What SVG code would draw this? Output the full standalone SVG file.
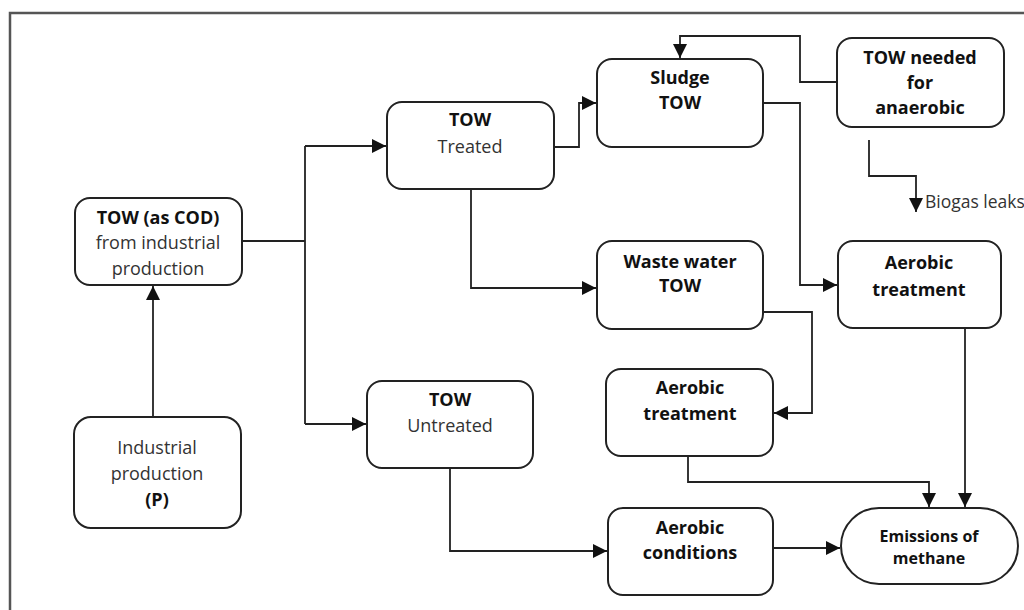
<svg xmlns="http://www.w3.org/2000/svg" width="1024" height="610" viewBox="0 0 1024 610">
<style>
.box{fill:#fff;stroke:#222;stroke-width:2}
.t{font-family:"Open Sans","Liberation Sans",sans-serif;font-size:18px;fill:#333;text-anchor:middle}
.b{font-weight:bold;fill:#111}
.c{fill:none;stroke:#222;stroke-width:1.8}
</style>
<defs>
<marker id="ah" markerUnits="userSpaceOnUse" markerWidth="15" markerHeight="14" refX="14" refY="7" orient="auto">
<path d="M0,0 L14,7 L0,14 z" fill="#111"/>
</marker>
</defs>
<rect width="1024" height="610" fill="#fff"/>
<path d="M10,610 V13 H1024" fill="none" stroke="#555" stroke-width="2.5"/>
<g id="connectors">
<path class="c" d="M153,417 V286" marker-end="url(#ah)"/>
<path class="c" d="M242,241 H305 M305,146 V424"/>
<path class="c" d="M305,146 H386" marker-end="url(#ah)"/>
<path class="c" d="M305,424 H366" marker-end="url(#ah)"/>
<path class="c" d="M554,147 H579 V103 H596" marker-end="url(#ah)"/>
<path class="c" d="M838,82 H800 V36 H680 V58" marker-end="url(#ah)"/>
<path class="c" d="M763,103 H800 V285 H837" marker-end="url(#ah)"/>
<path class="c" d="M471,189 V288 H596" marker-end="url(#ah)"/>
<path class="c" d="M763,312 H812 V413 H774" marker-end="url(#ah)"/>
<path class="c" d="M869,140 V176 H916 V212" marker-end="url(#ah)"/>
<path class="c" d="M688,456 V482 H929 V507" marker-end="url(#ah)"/>
<path class="c" d="M965,328 V507" marker-end="url(#ah)"/>
<path class="c" d="M450,468 V551 H607" marker-end="url(#ah)"/>
<path class="c" d="M773,548 H840" marker-end="url(#ah)"/>
<text class="t" x="925" y="208" style="text-anchor:start;font-size:17.5px">Biogas leaks</text>
</g>
<g id="n_cod">
<rect class="box" x="75" y="198" width="167" height="87" rx="15"/>
<text class="t b" x="158" y="224">TOW (as COD)</text>
<text class="t" x="158" y="249">from industrial</text>
<text class="t" x="158" y="275">production</text>
</g>
<g id="n_ip">
<rect class="box" x="74" y="417" width="167" height="111" rx="17"/>
<text class="t" x="157" y="454">Industrial</text>
<text class="t" x="157" y="480">production</text>
<text class="t b" x="157" y="506">(P)</text>
</g>
<g id="n_treated">
<rect class="box" x="387" y="102" width="167" height="87" rx="15"/>
<text class="t b" x="470" y="126">TOW</text>
<text class="t" x="470" y="153">Treated</text>
</g>
<g id="n_sludge">
<rect class="box" x="597" y="59" width="166" height="88" rx="15"/>
<text class="t b" x="680" y="84">Sludge</text>
<text class="t b" x="680" y="109">TOW</text>
</g>
<g id="n_needed">
<rect class="box" x="837" y="38" width="167" height="89" rx="15"/>
<text class="t b" x="920" y="64">TOW needed</text>
<text class="t b" x="920" y="89">for</text>
<text class="t b" x="920" y="114">anaerobic</text>
</g>
<g id="n_aer1">
<rect class="box" x="838" y="241" width="163" height="87" rx="15"/>
<text class="t b" x="919" y="269">Aerobic</text>
<text class="t b" x="919" y="296">treatment</text>
</g>
<g id="n_waste">
<rect class="box" x="597" y="241" width="166" height="88" rx="15"/>
<text class="t b" x="680" y="268">Waste water</text>
<text class="t b" x="680" y="292">TOW</text>
</g>
<g id="n_aer2">
<rect class="box" x="606" y="369" width="167" height="87" rx="15"/>
<text class="t b" x="690" y="394">Aerobic</text>
<text class="t b" x="690" y="420">treatment</text>
</g>
<g id="n_untreated">
<rect class="box" x="367" y="381" width="166" height="87" rx="15"/>
<text class="t b" x="450" y="406">TOW</text>
<text class="t" x="450" y="432">Untreated</text>
</g>
<g id="n_cond">
<rect class="box" x="608" y="508" width="165" height="87" rx="15"/>
<text class="t b" x="690" y="534">Aerobic</text>
<text class="t b" x="690" y="559">conditions</text>
</g>
<g id="n_emis">
<rect class="box" x="841" y="508" width="177" height="76" rx="38"/>
<text class="t b" x="929" y="542" style="font-size:16px">Emissions of</text>
<text class="t b" x="929" y="564" style="font-size:16px">methane</text>
</g>
</svg>
